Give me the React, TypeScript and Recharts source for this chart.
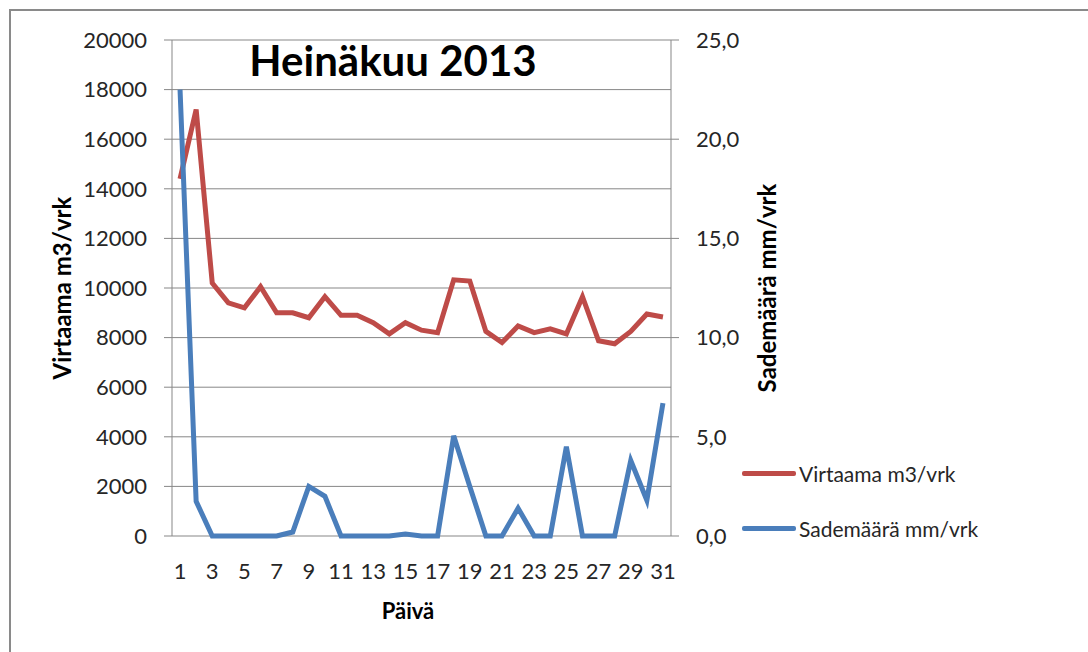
import React from 'react';
import { LineChart, Line, XAxis, YAxis, CartesianGrid, Legend } from 'recharts';

// Heinäkuu 2013 – päivittäinen virtaama ja sademäärä
const days = [1, 2, 3, 4, 5, 6, 7, 8, 9, 10, 11, 12, 13, 14, 15, 16, 17, 18, 19, 20, 21, 22, 23, 24, 25, 26, 27, 28, 29, 30, 31];
const virtaama = [14400, 17200, 10200, 9400, 9200, 10050, 9000, 9000, 8800, 9650, 8900, 8900, 8600, 8150, 8600, 8300, 8200, 10330, 10280, 8250, 7800, 8470, 8200, 8350, 8150, 9650, 7870, 7750, 8250, 8950, 8830];
const sademaara = [22.5, 1.75, 0, 0, 0, 0, 0, 0.2, 2.5, 2.0, 0, 0, 0, 0, 0.1, 0, 0, 5.05, 2.5, 0, 0, 1.4, 0, 0, 4.5, 0, 0, 0, 3.8, 1.8, 6.7];

const dayLabels = [1, 3, 5, 7, 9, 11, 13, 15, 17, 19, 21, 23, 25, 27, 29, 31];
const dayEdges = [0.5, 1.5, 2.5, 3.5, 4.5, 5.5, 6.5, 7.5, 8.5, 9.5, 10.5, 11.5, 12.5, 13.5, 14.5, 15.5, 16.5, 17.5, 18.5, 19.5, 20.5, 21.5, 22.5, 23.5, 24.5, 25.5, 26.5, 27.5, 28.5, 29.5, 30.5, 31.5];
const leftTicks = [0, 2000, 4000, 6000, 8000, 10000, 12000, 14000, 16000, 18000, 20000];
const rightTicks = [0, 5, 10, 15, 20, 25];
const seriesOrder = ['virtaama', 'sademaara'];

const data = days.map((day, i) => ({ day, virtaama: virtaama[i], sademaara: sademaara[i] }));

const FONT = 'Lato, "Open Sans", sans-serif';
const GRID = '#878787';
const RED = '#BE4B48';
const BLUE = '#4A7EBB';

const tickStyle = { fontSize: 22, fill: '#262626', fontFamily: FONT };

const renderLegend = (props: any) => {
  const payload = [...(props.payload || [])].sort(
    (a: any, b: any) => seriesOrder.indexOf(a.dataKey) - seriesOrder.indexOf(b.dataKey)
  );
  return (
    <div style={{ fontFamily: FONT, fontSize: 21, color: '#262626' }}>
      {payload.map((entry: any) => (
        <div key={entry.value} style={{ display: 'flex', alignItems: 'center', height: 55 }}>
          <span style={{ display: 'inline-block', width: 54, height: 5, background: entry.color, borderRadius: 2, marginRight: 3 }} />
          <span>{entry.value}</span>
        </div>
      ))}
    </div>
  );
};

export default function App() {
  return (
    <div style={{ position: 'absolute', left: 0, top: 0, width: 1088, height: 652, background: '#fff', overflow: 'hidden' }}>
      {/* kehys */}
      <div style={{ position: 'absolute', left: 9, top: 9, width: 1100, height: 700, borderLeft: '2px solid #8a8a8a', borderTop: '2px solid #8a8a8a' }} />
      <LineChart width={1088} height={652} data={data} margin={{ top: 40, right: 287, bottom: 56, left: 0 }}>
        <CartesianGrid vertical={false} stroke={GRID} yAxisId="left" xAxisId="days" />
        <XAxis
          xAxisId={0}
          dataKey="day"
          type="number"
          domain={[0.5, 31.5]}
          ticks={dayEdges}
          height={0}
          tickSize={8}
          tickLine={{ stroke: GRID }}
          axisLine={{ stroke: GRID }}
          tickFormatter={() => ''}
        />
        <XAxis
          xAxisId="days"
          dataKey="day"
          type="number"
          domain={[0.5, 31.5]}
          ticks={dayLabels}
          interval={0}
          height={60}
          tickLine={false}
          tickSize={0}
          tickMargin={27}
          axisLine={false}
          tick={tickStyle}
          label={{
            content: () => (
              <text x={408} y={619} textAnchor="middle" fontFamily={FONT} fontWeight={700} fontSize={22} fill="#000">
                Päivä
              </text>
            ),
          }}
        />
        <YAxis
          yAxisId="left"
          orientation="left"
          width={172}
          domain={[0, 20000]}
          ticks={leftTicks}
          tickSize={8}
          tickMargin={17}
          tickLine={{ stroke: GRID }}
          axisLine={{ stroke: GRID }}
          tick={tickStyle}
          label={{
            content: () => (
              <text x={61} y={288} transform="rotate(-90, 61, 288)" textAnchor="middle" dominantBaseline="central" fontFamily={FONT} fontWeight={700} fontSize={24} fill="#000">
                Virtaama m3/vrk
              </text>
            ),
          }}
        />
        <YAxis
          yAxisId="right"
          orientation="right"
          width={130}
          domain={[0, 25]}
          ticks={rightTicks}
          tickSize={8}
          tickMargin={17}
          tickLine={{ stroke: GRID }}
          axisLine={{ stroke: GRID }}
          tick={tickStyle}
          tickFormatter={(v: number) => v.toFixed(1).replace('.', ',')}
          label={{
            content: () => (
              <text x={766} y={288} transform="rotate(-90, 766, 288)" textAnchor="middle" dominantBaseline="central" fontFamily={FONT} fontWeight={700} fontSize={24} fill="#000">
                Sademäärä mm/vrk
              </text>
            ),
          }}
        />
        <Legend
          layout="vertical"
          align="center"
          verticalAlign="middle"
          content={renderLegend}
          wrapperStyle={{ position: 'absolute', left: 742, top: 446, width: 300 }}
        />
        <Line
          xAxisId="days"
          yAxisId="left"
          dataKey="virtaama"
          name="Virtaama m3/vrk"
          stroke={RED}
          strokeWidth={5}
          dot={false}
          activeDot={false}
          isAnimationActive={false}
        />
        <Line
          xAxisId="days"
          yAxisId="right"
          dataKey="sademaara"
          name="Sademäärä mm/vrk"
          stroke={BLUE}
          strokeWidth={5}
          dot={false}
          activeDot={false}
          isAnimationActive={false}
        />
      </LineChart>
      <div style={{ position: 'absolute', left: 0, width: 786, top: 39, textAlign: 'center', fontFamily: FONT, fontWeight: 700, fontSize: 42, lineHeight: '42px', color: '#000' }}>
        Heinäkuu 2013
      </div>
    </div>
  );
}
